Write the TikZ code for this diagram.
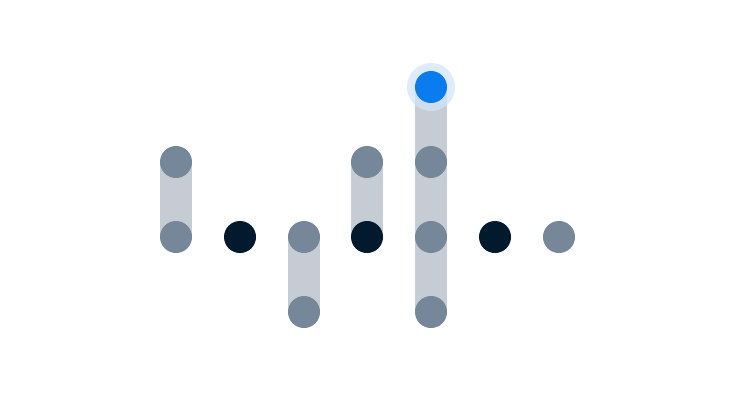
\documentclass[tikz,border=0pt]{standalone}
\begin{document}
\begin{tikzpicture}[x=1pt,y=-1pt,
  dotgray/.style={circle,fill=dotg,minimum size=32pt,inner sep=0pt,draw=none},
  dotdark/.style={circle,fill=dotd,minimum size=32pt,inner sep=0pt,draw=none},
  dotblue/.style={circle,fill=dotb,minimum size=32pt,inner sep=0pt,draw=none},
  halo/.style={circle,fill=haloc,fill opacity=0.75,minimum size=48pt,inner sep=0pt,draw=none},
  barline/.style={draw=barc,line width=32pt,line cap=butt}]
\definecolor{dotg}{HTML}{76879A}
\definecolor{dotd}{HTML}{011A2E}
\definecolor{dotb}{HTML}{0A7CF0}
\definecolor{barc}{HTML}{C6CCD3}
\definecolor{haloc}{HTML}{D3E5F9}
\useasboundingbox (0,0) rectangle (736,400);
\fill[white] (0,0) rectangle (736,400);
% coordinates
\coordinate (a1) at (176,162);
\coordinate (a2) at (176,237);
\coordinate (b) at (240,237);
\coordinate (c1) at (304,237);
\coordinate (c2) at (304,312);
\coordinate (d1) at (367,162);
\coordinate (d2) at (367,237);
\coordinate (e0) at (431,87);
\coordinate (e1) at (431,162);
\coordinate (e2) at (431,237);
\coordinate (e3) at (431,312);
\coordinate (f) at (495,237);
\coordinate (g) at (559,237);
% bars
\draw[barline] (a1) -- (a2);
\draw[barline] (c1) -- (c2);
\draw[barline] (d1) -- (d2);
\draw[barline] (e0) -- (e3);
% dots
\node[dotgray] (na1) at (a1) {};
\node[dotgray] (na2) at (a2) {};
\node[dotdark] (nb) at (b) {};
\node[dotgray] (nc1) at (c1) {};
\node[dotgray] (nc2) at (c2) {};
\node[dotgray] (nd1) at (d1) {};
\node[dotdark] (nd2) at (d2) {};
\node[halo] (nh) at (e0) {};
\node[dotblue] (ne0) at (e0) {};
\node[dotgray] (ne1) at (e1) {};
\node[dotgray] (ne2) at (e2) {};
\node[dotgray] (ne3) at (e3) {};
\node[dotdark] (nf) at (f) {};
\node[dotgray] (ng) at (g) {};
\end{tikzpicture}
\end{document}
